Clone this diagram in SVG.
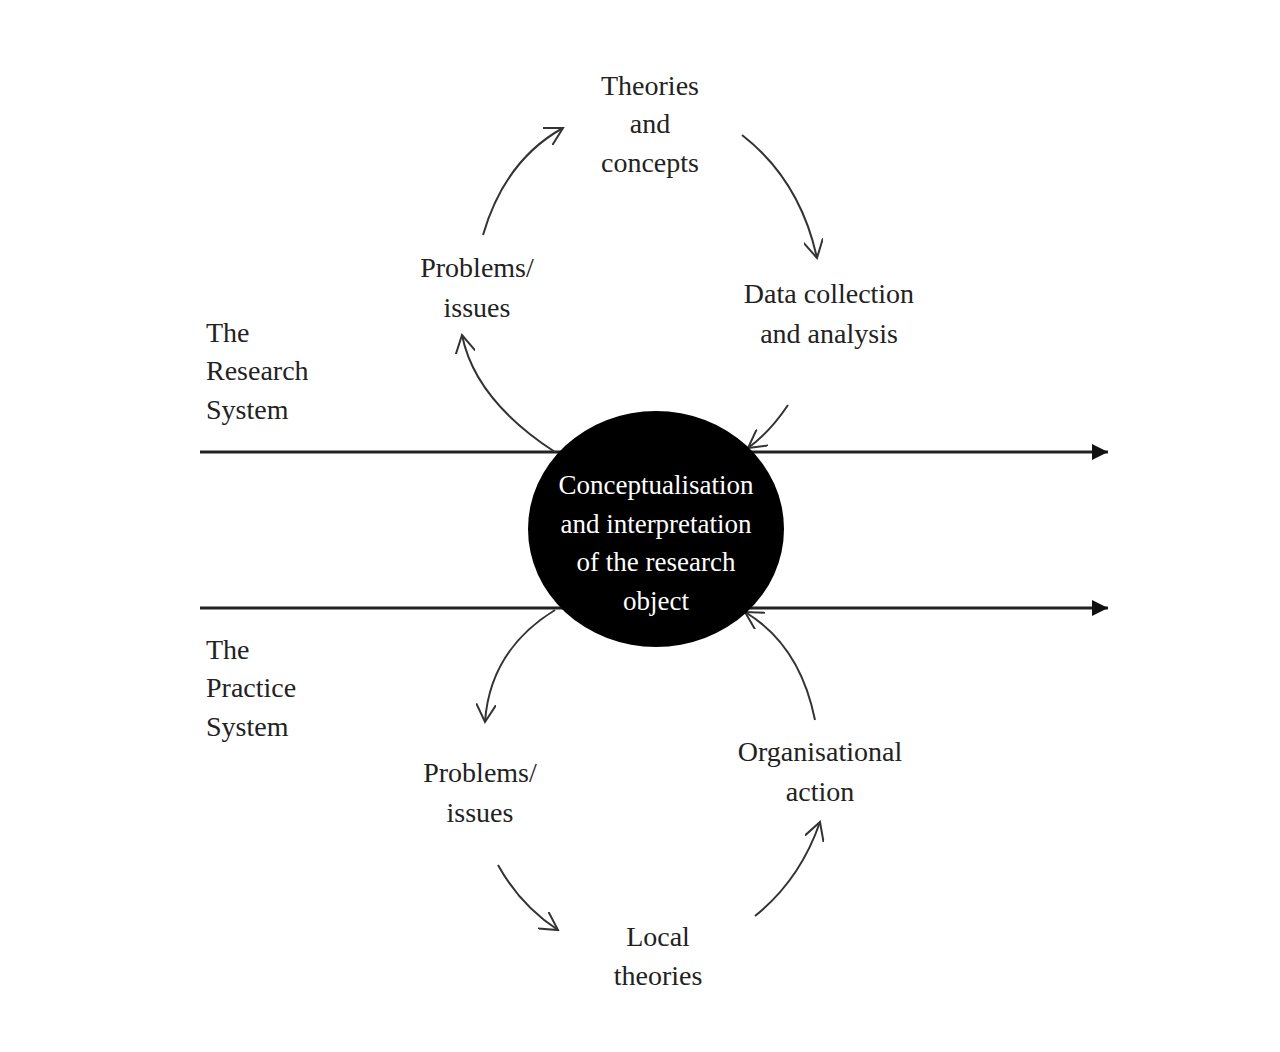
<svg xmlns="http://www.w3.org/2000/svg" width="1280" height="1052" viewBox="0 0 1280 1052">
<style>
text{font-family:"Liberation Serif","Times New Roman",serif;font-size:28px;fill:#222;text-anchor:middle}
.l{text-anchor:start}
.w{fill:#fff;font-size:27px}
.c{fill:none;stroke:#333;stroke-width:2}
</style>
<defs>
<marker id="v" viewBox="0 0 20 20" refX="18" refY="10" markerWidth="20" markerHeight="20" markerUnits="userSpaceOnUse" orient="auto"><path d="M0,0 L18,10 L0,20" fill="none" stroke="#333" stroke-width="2"/></marker>
<marker id="t" viewBox="0 0 16 16" refX="16" refY="8" markerWidth="16" markerHeight="16" markerUnits="userSpaceOnUse" orient="auto"><path d="M0,0 L16,8 L0,16z" fill="#111"/></marker>
</defs>
<rect width="1280" height="1052" fill="#fff"/>
<g id="connectors">
<line x1="200" y1="452" x2="1108" y2="452" stroke="#222" stroke-width="3" marker-end="url(#t)"/>
<line x1="200" y1="608" x2="1108" y2="608" stroke="#222" stroke-width="3" marker-end="url(#t)"/>
<path class="c" d="M483,235 Q505,160 563,128" marker-end="url(#v)"/>
<path class="c" d="M742,135 Q800,180 817,258" marker-end="url(#v)"/>
<path class="c" d="M788,405 Q770,432 748,448" marker-end="url(#v)"/>
<path class="c" d="M555,452 Q475,400 462,335" marker-end="url(#v)"/>
<path class="c" d="M555,610 Q490,650 485,722" marker-end="url(#v)"/>
<path class="c" d="M498,865 Q520,905 558,930" marker-end="url(#v)"/>
<path class="c" d="M755,916 Q800,880 820,822" marker-end="url(#v)"/>
<path class="c" d="M815,720 Q800,645 745,612" marker-end="url(#v)"/>
</g>
<g id="center"><ellipse cx="656" cy="529" rx="128" ry="118" fill="#000"/>
<text class="w" x="656" y="494">Conceptualisation</text>
<text class="w" x="656" y="533">and interpretation</text>
<text class="w" x="656" y="571">of the research</text>
<text class="w" x="656" y="610">object</text></g>
<g id="theories"><text x="650" y="95">Theories</text><text x="650" y="133">and</text><text x="650" y="172">concepts</text></g>
<g id="data"><text x="829" y="303">Data collection</text><text x="829" y="343">and analysis</text></g>
<g id="prob1"><text x="477" y="277">Problems/</text><text x="477" y="317">issues</text></g>
<g id="research"><text class="l" x="206" y="342">The</text><text class="l" x="206" y="380">Research</text><text class="l" x="206" y="419">System</text></g>
<g id="practice"><text class="l" x="206" y="659">The</text><text class="l" x="206" y="697">Practice</text><text class="l" x="206" y="736">System</text></g>
<g id="prob2"><text x="480" y="782">Problems/</text><text x="480" y="822">issues</text></g>
<g id="org"><text x="820" y="761">Organisational</text><text x="820" y="801">action</text></g>
<g id="local"><text x="658" y="946">Local</text><text x="658" y="985">theories</text></g>
</svg>
